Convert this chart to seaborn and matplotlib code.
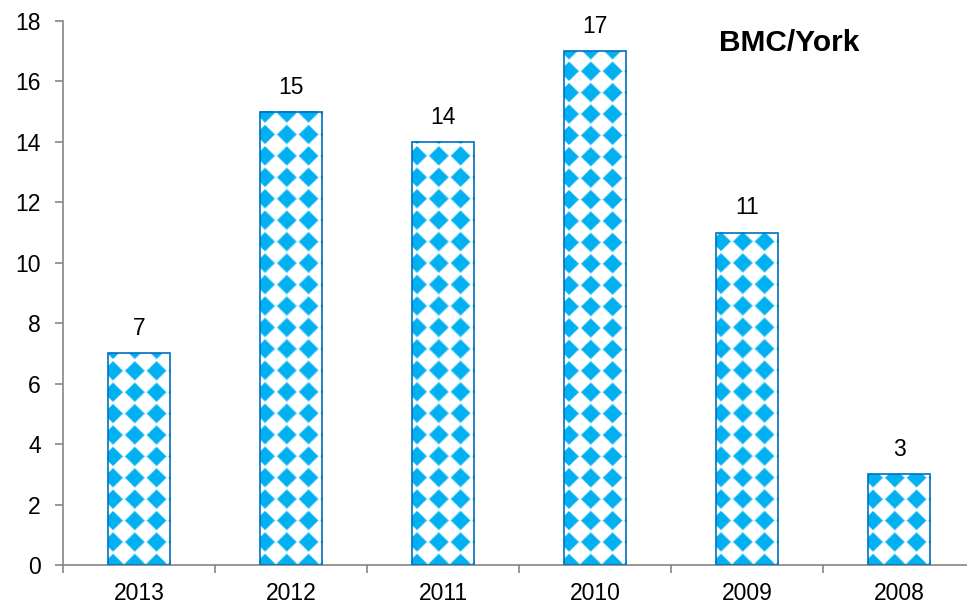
import numpy as np
import pandas as pd
import matplotlib
matplotlib.use("Agg")
import matplotlib.pyplot as plt
import matplotlib.ticker as mticker
import seaborn as sns

sns.set_theme(style="white")
plt.rcParams["font.family"] = ["Liberation Sans", "DejaVu Sans"]

# ── data ─────────────────────────────────────────────────────────────
years = ["2013", "2012", "2011", "2010", "2009", "2008"]
counts = [7, 15, 14, 17, 11, 3]
title = "BMC/York"

df = pd.DataFrame({"year": years, "count": counts})

# ── style ────────────────────────────────────────────────────────────
BLUE = np.array([0, 176, 240]) / 255.0
EDGE = "#0070C0"
AXIS = "#868686"
DPI = 100

fig = plt.figure(figsize=(9.67, 6.11), dpi=DPI)
# axis runs past the right edge of the picture, as in the original
ax = fig.add_axes([63 / 967, 46 / 611, 912 / 967, 544 / 611])

sns.barplot(data=df, x="year", y="count", order=years, color="white",
            saturation=1, width=0.41, edgecolor=EDGE, linewidth=1.2, ax=ax)

ax.set_ylim(0, 18)
ax.set_xlim(-0.5, len(years) - 0.5)


def diamond_fill(h_px, w_px, pitch=21.4, x0=5.0, y0=1.6):
    """Rotated-checker pattern of blue diamonds on white (pixel grid)."""
    yy, xx = np.mgrid[0:h_px, 0:w_px]
    dx = ((xx + 0.5 - x0) / pitch + 0.5) % 1 - 0.5
    dy = ((yy + 0.5 - y0) / pitch + 0.5) % 1 - 0.5
    d = np.abs(dx) + np.abs(dy)
    v = np.clip((0.45 - d) / 0.09 + 0.5, 0, 1)[..., None]
    return (1 - v) * np.ones(3) + v * BLUE


# fill each bar with the pattern, then draw the outline on top
px_per_x = 912 / len(years)
px_per_y = 544 / 18
for bar in ax.patches:
    x, w, h = bar.get_x(), bar.get_width(), bar.get_height()
    img = diamond_fill(int(round(h * px_per_y)), int(round(w * px_per_x)))
    ax.imshow(img, extent=(x, x + w, 0, h), origin="lower", aspect="auto",
              interpolation="bilinear", zorder=2)
    bar.set_facecolor("none")
    bar.set_zorder(3)

# value labels
for bar, val in zip(ax.patches, counts):
    ax.annotate(f"{val}", (bar.get_x() + bar.get_width() / 2, bar.get_height()),
                xytext=(0, 13), textcoords="offset points",
                ha="center", va="baseline", fontsize=16.5, color="black")

# axes look
for side in ["top", "right"]:
    ax.spines[side].set_visible(False)
for side in ["left", "bottom"]:
    ax.spines[side].set_color(AXIS)
    ax.spines[side].set_linewidth(1.2)

ax.yaxis.set_major_locator(mticker.MultipleLocator(2))
ax.tick_params(axis="y", direction="out", length=6, width=1.2, color=AXIS,
               labelsize=16.5, labelcolor="black", pad=10, left=True)
ax.xaxis.set_minor_locator(mticker.FixedLocator(np.arange(-0.5, len(years), 1)))
ax.tick_params(axis="x", which="major", length=0, labelsize=16.5,
               labelcolor="black", pad=12)
ax.tick_params(axis="x", which="minor", direction="out", length=6, width=1.2,
               color=AXIS, bottom=True)
ax.set_xlabel("")
ax.set_ylabel("")
ax.grid(False)

fig.text(789 / 967, 1 - 43 / 611, title, ha="center", va="center",
         fontsize=21.5, fontweight="bold", color="black")

fig.savefig("out.png", dpi=DPI)
